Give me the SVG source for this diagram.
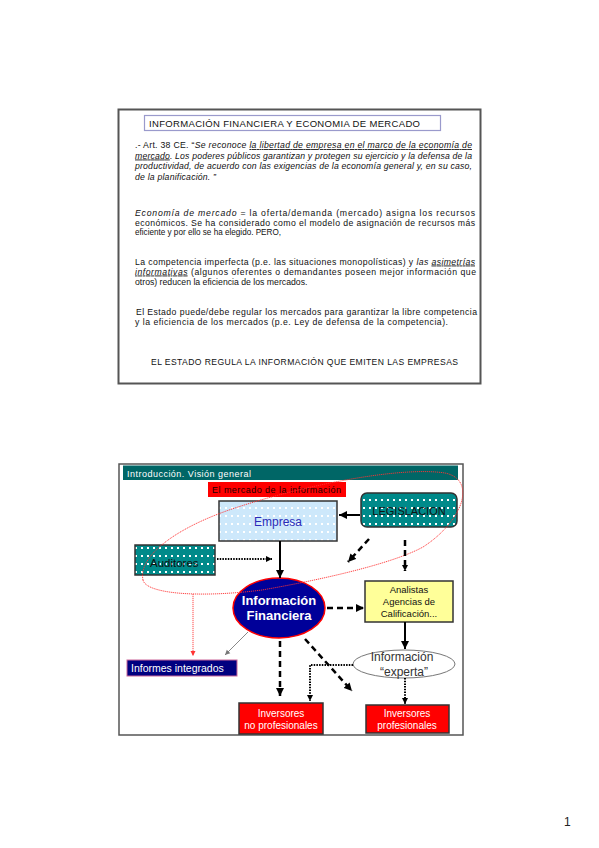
<svg xmlns="http://www.w3.org/2000/svg" width="599" height="848" viewBox="0 0 599 848">
<style>
text{font-family:"Liberation Sans",Arial,sans-serif}
.p{font-size:8.7px;fill:#111}
.i{font-style:italic}
.u{text-decoration:underline}
.dash{stroke:#000;stroke-width:2.5;stroke-dasharray:6 4;fill:none}
.sol{stroke:#000;stroke-width:2;fill:none}
.dot{stroke:#000;stroke-width:2;stroke-dasharray:1.5 1.2;fill:none}
.box{stroke:#333;stroke-width:1.5}
.wt{fill:#fff}
</style>
<defs>
<marker id="ah" markerUnits="userSpaceOnUse" markerWidth="9" markerHeight="9" refX="8" refY="4.5" orient="auto"><path d="M0,0.5 L8,4.5 L0,8.5z" fill="#000"/></marker>
<marker id="ahs" markerUnits="userSpaceOnUse" markerWidth="7" markerHeight="7" refX="6" refY="3.5" orient="auto"><path d="M0,0.5 L6,3.5 L0,6.5z" fill="#000"/></marker>
<marker id="ahg" markerUnits="userSpaceOnUse" markerWidth="6" markerHeight="6" refX="5" refY="3" orient="auto"><path d="M0,0.5 L5,3 L0,5.5z" fill="#777"/></marker>
<marker id="ahr" markerUnits="userSpaceOnUse" markerWidth="6" markerHeight="6" refX="5" refY="3" orient="auto"><path d="M0,0.5 L5,3 L0,5.5z" fill="#f33"/></marker>
<pattern id="teal" patternUnits="userSpaceOnUse" width="6" height="8" x="1" y="1"><rect width="6" height="8" fill="#008a8a"/><rect x="2" y="2" width="2" height="2" fill="#fff"/></pattern>
<pattern id="blue" patternUnits="userSpaceOnUse" width="6" height="8" x="1" y="1"><rect width="6" height="8" fill="#cde8fb"/><rect x="2" y="2" width="2" height="2" fill="#fff"/></pattern>
</defs>
<rect width="599" height="848" fill="#fff"/>

<g id="panel-top">
<rect x="118.5" y="109.5" width="362" height="274" fill="#fff" stroke="#555" stroke-width="2"/>
<rect x="144.5" y="115.5" width="296" height="15" fill="#fff" stroke="#9a9acc" stroke-width="1.2"/>
<text x="149" y="126.5" font-size="9.5" textLength="271" lengthAdjust="spacing" fill="#111">INFORMACIÓN FINANCIERA Y ECONOMIA DE MERCADO</text>

<text class="p" x="135" y="148" textLength="337" lengthAdjust="spacing">.- Art. 38 CE. “<tspan class="i">Se reconoce </tspan><tspan class="i u">la libertad de empresa en el marco de la economía de</tspan></text>
<text class="p i" x="135" y="158.5" textLength="337" lengthAdjust="spacing"><tspan class="u">mercado</tspan>. Los poderes públicos garantizan y protegen su ejercicio y la defensa de la</text>
<text class="p i" x="135" y="169" textLength="337" lengthAdjust="spacing">productividad, de acuerdo con las exigencias de la economía general y, en su caso,</text>
<text class="p i" x="135" y="179.5" textLength="81" lengthAdjust="spacing">de la planificación. ”</text>

<text class="p" x="135" y="216" textLength="340" lengthAdjust="spacing"><tspan class="i">Economía de mercado</tspan> = la oferta/demanda (mercado) asigna los recursos</text>
<text class="p" x="135" y="225.5" textLength="340" lengthAdjust="spacing">económicos. Se ha considerado como el modelo de asignación de recursos más</text>
<text class="p" x="135" y="235" textLength="146" lengthAdjust="spacingAndGlyphs">eficiente y por ello se ha elegido. PERO,</text>

<text class="p" x="135" y="264.5" textLength="340" lengthAdjust="spacing">La competencia imperfecta (p.e. las situaciones monopolísticas) y <tspan class="i">las </tspan><tspan class="i u">asimetrías</tspan></text>
<text class="p" x="135" y="274.5" textLength="341" lengthAdjust="spacing"><tspan class="i u">informativas</tspan> (algunos oferentes o demandantes poseen mejor información que</text>
<text class="p" x="135" y="284.5">otros) reducen la eficiencia de los mercados.</text>

<text class="p" x="136" y="314.5" textLength="341" lengthAdjust="spacing">El Estado puede/debe regular los mercados para garantizar la libre competencia</text>
<text class="p" x="135" y="325" textLength="313" lengthAdjust="spacing">y la eficiencia de los mercados (p.e. Ley de defensa de la competencia).</text>

<text x="151" y="364.5" font-size="8.6" textLength="307" lengthAdjust="spacing" fill="#111">EL ESTADO REGULA LA INFORMACIÓN QUE EMITEN LAS EMPRESAS</text>
</g>

<g id="panel-bottom">
<rect x="119" y="464" width="344" height="271" fill="#fff" stroke="#555" stroke-width="1.5"/>
<rect x="123" y="465.5" width="335" height="14.5" fill="#006666"/>
<text x="127" y="476.5" font-size="9" textLength="124" lengthAdjust="spacing" fill="#fff">Introducción. Visión general</text>
</g>

<g id="mercado-label">
<rect x="208" y="482" width="138" height="15" fill="#ff0000"/>
<text x="212" y="493" font-size="9" textLength="129" lengthAdjust="spacing" fill="#220000">El mercado de la información</text>
</g>

<g id="empresa">
<rect x="219" y="501" width="118" height="40" fill="url(#blue)" class="box"/>
<text x="278" y="526" font-size="12" text-anchor="middle" fill="#2b2bb8">Empresa</text>
</g>

<g id="legislacion">
<rect x="361" y="493" width="96" height="34" rx="6" fill="url(#teal)" class="box"/>
<text x="409" y="515" font-size="11" text-anchor="middle" fill="#111">LEGISLACION</text>
</g>

<g id="auditores">
<rect x="135" y="545" width="80" height="30" fill="url(#teal)" class="box"/>
<text x="150" y="566.5" font-size="11.5" fill="#111">Auditores</text>
</g>

<g id="informacion-financiera">
<ellipse cx="279" cy="608" rx="46" ry="30" fill="#000099" stroke="#ff0000" stroke-width="1.5"/>
<text x="279" y="605" font-size="13" font-weight="bold" text-anchor="middle" class="wt">Información</text>
<text x="279" y="620" font-size="13" font-weight="bold" text-anchor="middle" class="wt">Financiera</text>
</g>

<g id="analistas">
<rect x="365" y="581" width="88" height="41" fill="#ffff99" class="box"/>
<text x="409" y="592.5" font-size="9.5" text-anchor="middle" fill="#111">Analistas</text>
<text x="409" y="604.5" font-size="9.5" text-anchor="middle" fill="#111">Agencias de</text>
<text x="409" y="616.5" font-size="9.5" text-anchor="middle" fill="#111">Calificación...</text>
</g>

<g id="informacion-experta">
<ellipse cx="404" cy="664" rx="51" ry="14" fill="#fff" stroke="#777" stroke-width="1"/>
<text x="402" y="661" font-size="12" text-anchor="middle" fill="#333">Información</text>
<text x="404" y="676" font-size="12" text-anchor="middle" fill="#333">“experta”</text>
</g>

<g id="informes-integrados">
<rect x="127" y="660" width="110" height="16" fill="#000080" stroke="#cc6699" stroke-width="1"/>
<text x="131" y="671.5" font-size="10.5" class="wt">Informes integrados</text>
</g>

<g id="inversores-no-profesionales">
<rect x="239" y="703" width="84" height="31" fill="#ff0000" class="box"/>
<text x="281" y="717" font-size="10" text-anchor="middle" class="wt">Inversores</text>
<text x="281" y="729" font-size="10" text-anchor="middle" class="wt">no profesionales</text>
</g>

<g id="inversores-profesionales">
<rect x="366" y="705" width="83" height="28" fill="#ff0000" class="box"/>
<text x="407" y="717" font-size="10" text-anchor="middle" class="wt">Inversores</text>
<text x="407" y="729" font-size="10" text-anchor="middle" class="wt">profesionales</text>
</g>

<g id="connectors">
<path d="M143 580 C138 556 176 528 232 509 C300 486 400 466 445 473 C478 480 462 522 423 547 C392 564 320 580 262 590 C200 598 146 594 143 580 Z" fill="none" stroke="#ff3333" stroke-width="0.9" stroke-dasharray="1.2 0.8"/>
<line x1="193" y1="594" x2="193" y2="656" stroke="#ff3333" stroke-width="0.9" stroke-dasharray="1.2 0.8" marker-end="url(#ahr)"/>
<line x1="360" y1="515" x2="339" y2="515" class="sol" marker-end="url(#ah)"/>
<line x1="217" y1="559" x2="272" y2="559" class="dot" marker-end="url(#ahs)"/>
<line x1="280" y1="541" x2="280" y2="578" class="sol" marker-end="url(#ah)"/>
<line x1="369" y1="539" x2="348" y2="562" class="dash" marker-end="url(#ah)"/>
<line x1="405" y1="540" x2="405" y2="571" class="dash" stroke-width="2" marker-end="url(#ahs)"/>
<line x1="327" y1="608" x2="364" y2="608" class="dash" marker-end="url(#ah)"/>
<line x1="405" y1="622" x2="405" y2="649" class="sol" marker-end="url(#ah)"/>
<line x1="280" y1="641" x2="280" y2="696" class="dash" marker-end="url(#ah)"/>
<line x1="305" y1="639" x2="352" y2="691" class="dash" marker-end="url(#ah)"/>
<path d="M353 665 H310 V701" class="dot" marker-end="url(#ahs)"/>
<line x1="405" y1="678" x2="405" y2="704" class="dot" marker-end="url(#ahs)"/>
<line x1="248" y1="632" x2="225" y2="655" stroke="#888" stroke-width="1" marker-end="url(#ahg)"/>
</g>

<text x="564" y="826" font-size="12" fill="#222">1</text>
</svg>
